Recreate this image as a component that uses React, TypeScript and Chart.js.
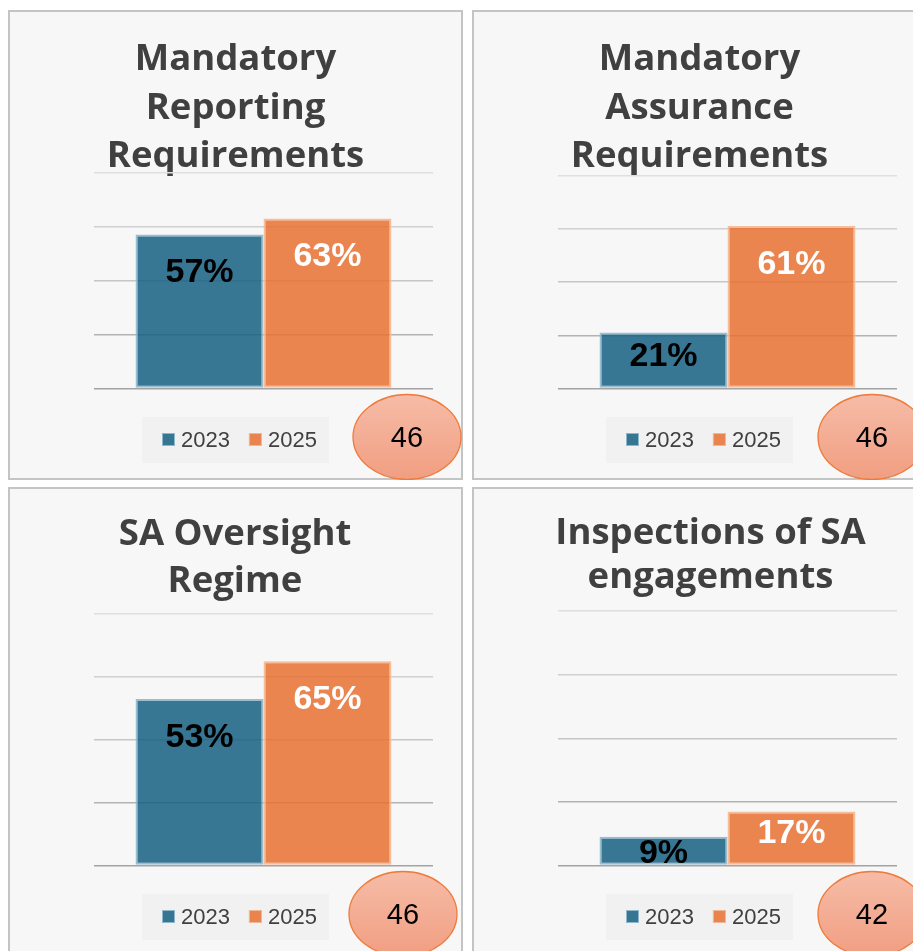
import { useEffect, useRef } from "react";
import { Chart, registerables } from "chart.js";

Chart.register(...registerables);

// ---------- data ----------
const categories = [
  "Mandatory Reporting Requirements",
  "Mandatory Assurance Requirements",
  "SA Oversight Regime",
  "Inspections of SA engagements",
];
const titleLines = [
  ["Mandatory", "Reporting", "Requirements"],
  ["Mandatory", "Assurance", "Requirements"],
  ["SA Oversight", "Regime"],
  ["Inspections of SA", "engagements"],
];
const seriesNames = ["2023", "2025"];
const values2023 = [57, 21, 53, 9];
const values2025 = [63, 61, 65, 17];
const respondents = [46, 46, 46, 42];
const yMin = 0;
const yMax = 80;
const yStep = 20;

// ---------- layout / style ----------
const PANEL_W = 455;
const PANEL_H = 470;
const panelPos = [
  { left: 8, top: 10 },
  { left: 472, top: 10 },
  { left: 8, top: 487 },
  { left: 472, top: 487 },
];
const plotLeft = 86;
const plotRight = 425;
const plotBottom = 378.5;
const plotTop = [162.5, 165.5, 127, 124];
const titleBaselines = [
  [60, 108.5, 157],
  [60, 108.5, 157],
  [58, 104.7],
  [57, 101],
];
const titleCenterX = [227.5, 227.5, 227, 238.5];
const badgeCenterX = [399, 400, 395, 400];
const badgeCenterY = 427;

const BG = "#f7f7f7";
const BLUE = "rgba(21,96,130,0.85)";
const BLUE_EDGE = "rgba(150,185,205,0.95)";
const ORANGE = "rgba(233,113,50,0.85)";
const ORANGE_EDGE = "rgba(245,185,150,0.95)";
const labelColors = ["#000000", "#ffffff"];
const LABEL_SIZE = 34;
const TITLE_FONT = '700 36.5px "Open Sans", "Noto Sans", sans-serif';
const LABEL_FONT = 'bold ' + LABEL_SIZE + 'px "Liberation Sans", Arial, sans-serif';
const LEGEND_FONT = '22px "Liberation Sans", Arial, sans-serif';
const BADGE_FONT = '29px "Liberation Sans", Arial, sans-serif';

function gridColor(v: number) {
  if (v <= 0) return "#a3a3a3";
  if (v <= 20) return "#b3b3b3";
  if (v <= 40) return "#c6c6c6";
  if (v <= 60) return "#d0d0d0";
  return "#dfdfdf";
}

function labelCenterOffset(h: number) {
  if (h >= 71) return 35.5;
  if (h >= 40) return h - 33.5;
  return h / 2;
}

function panelPlugin(i: number) {
  return {
    id: "panelDecor" + i,
    beforeDraw(chart: any) {
      const ctx = chart.ctx as CanvasRenderingContext2D;
      const w = chart.width;
      const h = chart.height;
      ctx.save();
      ctx.fillStyle = BG;
      ctx.fillRect(0, 0, w, h);
      ctx.strokeStyle = "#c4c4c4";
      ctx.lineWidth = 2;
      ctx.strokeRect(1, 1, w - 2, h - 2);

      // title
      ctx.fillStyle = "#404040";
      ctx.font = TITLE_FONT;
      ctx.textAlign = "center";
      ctx.textBaseline = "alphabetic";
      titleLines[i].forEach((line, k) => {
        ctx.fillText(line, titleCenterX[i], titleBaselines[i][k]);
      });

      // legend
      ctx.fillStyle = "#f1f1f1";
      ctx.fillRect(134, 407, 187, 46);
      ctx.font = LEGEND_FONT;
      ctx.textAlign = "left";
      let x = 154;
      chart.data.datasets.forEach((ds: any) => {
        ctx.fillStyle = ds.backgroundColor;
        ctx.fillRect(x, 423, 13, 13);
        ctx.strokeStyle = ds.borderColor;
        ctx.lineWidth = 1;
        ctx.strokeRect(x + 0.5, 423.5, 12, 12);
        ctx.fillStyle = "#404040";
        ctx.fillText(ds.label, x + 19, 437);
        x += 19 + ctx.measureText(ds.label).width + 19;
      });

      // respondents badge
      const cx = badgeCenterX[i];
      const cy = badgeCenterY;
      const g = ctx.createLinearGradient(0, cy - 42.5, 0, cy + 42.5);
      g.addColorStop(0, "#f6bca7");
      g.addColorStop(1, "#f19e82");
      ctx.beginPath();
      ctx.ellipse(cx, cy, 54, 42.5, 0, 0, Math.PI * 2);
      ctx.fillStyle = g;
      ctx.fill();
      ctx.strokeStyle = "#ee7b3a";
      ctx.lineWidth = 1.3;
      ctx.stroke();
      ctx.fillStyle = "#000000";
      ctx.font = BADGE_FONT;
      ctx.textAlign = "center";
      ctx.fillText(String(respondents[i]), cx, cy + 10.4);
      ctx.restore();
    },
    afterDatasetsDraw(chart: any) {
      const ctx = chart.ctx as CanvasRenderingContext2D;
      ctx.save();
      ctx.font = LABEL_FONT;
      ctx.textAlign = "center";
      ctx.textBaseline = "alphabetic";
      chart.data.datasets.forEach((ds: any, d: number) => {
        const meta = chart.getDatasetMeta(d);
        meta.data.forEach((bar: any, k: number) => {
          const h = bar.base - bar.y;
          const cy = bar.y + labelCenterOffset(h);
          ctx.fillStyle = labelColors[d];
          ctx.fillText(ds.data[k] + "%", bar.x, cy + (0.716 * LABEL_SIZE) / 2);
        });
      });
      ctx.restore();
    },
  };
}

function makeConfig(i: number): any {
  return {
    type: "bar",
    data: {
      labels: [categories[i]],
      datasets: [
        {
          label: seriesNames[0],
          data: [values2023[i]],
          backgroundColor: BLUE,
          borderColor: BLUE_EDGE,
          borderWidth: 2,
          borderSkipped: false,
        },
        {
          label: seriesNames[1],
          data: [values2025[i]],
          backgroundColor: ORANGE,
          borderColor: ORANGE_EDGE,
          borderWidth: 2,
          borderSkipped: false,
        },
      ],
    },
    options: {
      responsive: false,
      animation: false,
      events: [],
      layout: {
        padding: {
          left: plotLeft,
          right: PANEL_W - plotRight,
          top: plotTop[i],
          bottom: PANEL_H - plotBottom,
        },
      },
      datasets: { bar: { categoryPercentage: 0.755, barPercentage: 1 } },
      scales: {
        x: {
          display: false,
        },
        y: {
          min: yMin,
          max: yMax,
          ticks: { display: false, stepSize: yStep },
          border: { display: false },
          grid: {
            drawTicks: false,
            lineWidth: 1.5,
            color: (c: any) => gridColor(c.tick ? c.tick.value : 0),
          },
        },
      },
      plugins: {
        legend: { display: false },
        title: { display: false },
        tooltip: { enabled: false },
      },
    },
    plugins: [panelPlugin(i)],
  };
}

function Panel({ index }: { index: number }) {
  const ref = useRef<HTMLCanvasElement>(null);
  useEffect(() => {
    const chart = new Chart(ref.current as HTMLCanvasElement, makeConfig(index));
    let alive = true;
    const fonts: any = (document as any).fonts;
    if (fonts && fonts.load) {
      Promise.all([
        fonts.load(TITLE_FONT),
        fonts.load(LABEL_FONT),
        fonts.load(LEGEND_FONT),
      ]).then(() => {
        if (alive) chart.draw();
      });
    }
    return () => {
      alive = false;
      chart.destroy();
    };
  }, [index]);
  const pos = panelPos[index];
  return (
    <div
      style={{
        position: "absolute",
        left: pos.left,
        top: pos.top,
        width: PANEL_W,
        height: PANEL_H,
      }}
    >
      <canvas ref={ref} width={PANEL_W} height={PANEL_H} style={{ display: "block" }} />
    </div>
  );
}

export default function App() {
  return (
    <div
      style={{
        position: "fixed",
        left: 0,
        top: 0,
        width: 913,
        height: 951,
        overflow: "hidden",
        background: "#ffffff",
      }}
    >
      {categories.map((_, i) => (
        <Panel key={i} index={i} />
      ))}
    </div>
  );
}
